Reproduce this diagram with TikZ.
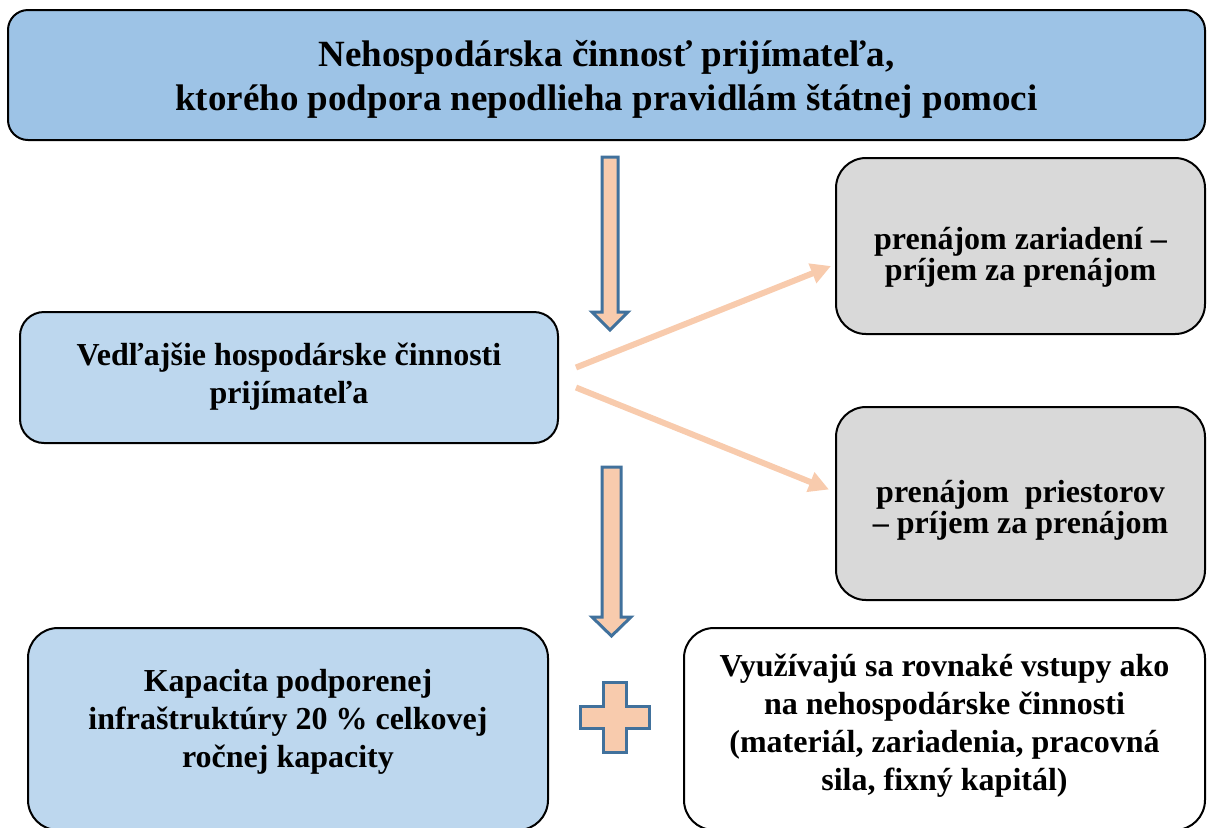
\documentclass[tikz,border=0pt]{standalone}
\usepackage{fontspec}
\setmainfont{Liberation Serif}
\usetikzlibrary{arrows.meta}

\definecolor{topblue}{HTML}{9DC3E6}
\definecolor{lightblue}{HTML}{BDD7EE}
\definecolor{boxgray}{HTML}{D9D9D9}
\definecolor{peach}{HTML}{F8CBAD}
\definecolor{edgeblue}{HTML}{41719C}

\tikzset{
  box/.style={draw=black, line width=1pt, align=center, inner sep=0pt,
    font=\bfseries\fontsize{16}{19}\selectfont},
  topbox/.style={box, fill=topblue, rounded corners=10pt,
    minimum width=598.5pt, minimum height=65pt,
    font=\bfseries\fontsize{18.5}{22}\selectfont},
  bluebox/.style={box, fill=lightblue, rounded corners=12pt},
  graybox/.style={box, fill=boxgray, rounded corners=15pt,
    minimum width=184.5pt, font=\bfseries\fontsize{16}{15.5}\selectfont},
  whitebox/.style={box, fill=white, rounded corners=15pt},
  fan/.style={draw=peach, line width=3pt, -{Triangle[length=10pt,width=10pt]}},
  blockarrow/.style={draw=edgeblue, fill=peach, line width=1.5pt}
}

\begin{document}
\begin{tikzpicture}[x=0.5pt, y=-0.5pt]
\useasboundingbox (0,0) rectangle (1212,827);
\clip (0,0) rectangle (1212,827);

% top box
\node[topbox, text height=39.5pt] (nehosp) at (606.5,75)
  {Nehospodárska činnosť prijímateľa,\\ktorého podpora nepodlieha pravidlám štátnej pomoci};

% secondary activities
\node[bluebox, minimum width=269pt, minimum height=65.5pt] (vedl) at (289,377.5)
  {Vedľajšie hospodárske činnosti\\prijímateľa\\[-15pt]};

% rentals
\node[graybox, minimum height=88pt, text height=38pt] (zariad) at (1020.5,246)
  {prenájom zariadení –\\príjem za prenájom};
\node[graybox, minimum height=96.5pt, text height=33pt] (priest) at (1020.5,503.5)
  {prenájom~ priestorov\\– príjem za prenájom};

% bottom row
\node[bluebox, minimum width=260pt, minimum height=101pt, rounded corners=15pt] (kapac) at (288,729)
  {Kapacita podporenej\\infraštruktúry 20 \% celkovej\\ročnej kapacity\\[-8pt]};
\node[whitebox, minimum width=260.5pt, minimum height=101pt] (vstupy) at (944.5,729)
  {Využívajú sa rovnaké vstupy ako\\na nehospodárske činnosti\\(materiál, zariadenia, pracovná\\sila, fixný kapitál)\\[-12.5pt]};

% fan arrows
\draw[fan] ([xshift=8.5pt, yshift=5pt]vedl.east) -- ([xshift=-2pt, yshift=-10pt]zariad.west);
\draw[fan] ([xshift=8.5pt, yshift=-5pt]vedl.east) -- ([xshift=-3pt, yshift=7pt]priest.west);

% block arrows
\draw[blockarrow] (602,157) -- (618,157) -- (618,312) -- (628,312) -- (610,330)
  -- (592,312) -- (602,312) -- cycle;
\draw[blockarrow] (602,467) -- (621,467) -- (621,617) -- (631,617) -- (611.5,636)
  -- (592,617) -- (602,617) -- cycle;

% plus
\draw[blockarrow] (603,682) -- (626,682) -- (626,706) -- (649,706) -- (649,728)
  -- (626,728) -- (626,752) -- (603,752) -- (603,728) -- (580,728) -- (580,706)
  -- (603,706) -- cycle;

\end{tikzpicture}
\end{document}
